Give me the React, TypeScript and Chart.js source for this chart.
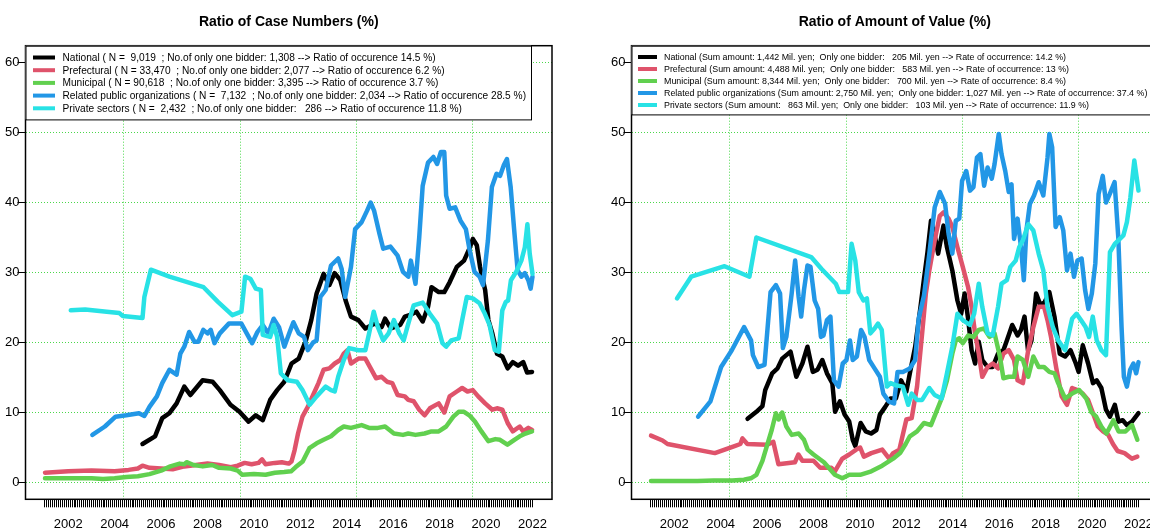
import React, { useEffect, useRef } from "react";
import { Chart, registerables } from "chart.js";

Chart.register(...registerables);

const FONT = "'Liberation Sans', Arial, Helvetica, sans-serif";
const GRID_COLOR = "#4bd84b";

// ---------- axes ----------
const yTickValues = [0, 10, 20, 30, 40, 50, 60];
const yearLabels = [2002, 2004, 2006, 2008, 2010, 2012, 2014, 2016, 2018, 2020, 2022];
const gridYears = [2004.4, 2009.4, 2014.4, 2019.4];
const firstMonthYear = 2001;
const monthCount = 253; // Jan 2001 .. Jan 2022
const xMin = 2000.16;
const xMax = 2022.84;
const yMin = -2.4;
const yMax = 62.4;

// ---------- series names / colours ----------
const seriesColors = ["#000000", "#DF536B", "#61D04F", "#2297E6", "#28E2E5"];

const caseLegend = [
  "National ( N =  9,019  ; No.of only one bidder: 1,308 --> Ratio of occurence 14.5 %)",
  "Prefectural ( N = 33,470  ; No.of only one bidder: 2,077 --> Ratio of occurence 6.2 %)",
  "Municipal ( N = 90,618  ; No.of only one bidder: 3,395 --> Ratio of occurence 3.7 %)",
  "Related public organizations ( N =  7,132  ; No.of only one bidder: 2,034 --> Ratio of occurence 28.5 %)",
  "Private sectors ( N =  2,432  ; No.of only one bidder:   286 --> Ratio of occurence 11.8 %)",
];

const valueLegend = [
  "National (Sum amount: 1,442 Mil. yen;  Only one bidder:   205 Mil. yen --> Rate of occurrence: 14.2 %)",
  "Prefectural (Sum amount: 4,488 Mil. yen;  Only one bidder:   583 Mil. yen --> Rate of occurrence: 13 %)",
  "Municipal (Sum amount: 8,344 Mil. yen;  Only one bidder:   700 Mil. yen --> Rate of occurrence: 8.4 %)",
  "Related public organizations (Sum amount: 2,750 Mil. yen;  Only one bidder: 1,027 Mil. yen --> Rate of occurrence: 37.4 %)",
  "Private sectors (Sum amount:   863 Mil. yen;  Only one bidder:   103 Mil. yen --> Rate of occurrence: 11.9 %)",
];

// ---------- Ratio of Case Numbers (%) : [year, value] ----------
const caseNational: [number, number][] = [
  [2005.2, 5.5], [2005.74, 6.6], [2006.05, 9.2], [2006.36, 9.9], [2006.67, 11.3], [2007.0, 13.7], [2007.26, 12.5],
  [2007.79, 14.6], [2008.22, 14.4], [2008.53, 13.2], [2008.99, 11.1], [2009.38, 10.1], [2009.77, 8.7], [2010.08, 9.6],
  [2010.38, 8.9], [2010.7, 11.8], [2011.0, 13.2], [2011.31, 14.4], [2011.62, 17.0], [2011.93, 17.7], [2012.24, 20.3],
  [2012.47, 23.2], [2012.7, 27.0], [2013.0, 29.8], [2013.25, 28.2], [2013.48, 29.9], [2013.72, 28.9], [2013.95, 26.0],
  [2014.18, 23.7], [2014.5, 23.2], [2014.8, 22.0], [2015.2, 22.7], [2015.5, 22.2], [2015.65, 23.4], [2015.9, 22.0],
  [2016.3, 22.5], [2016.5, 23.7], [2016.7, 23.9], [2017.0, 24.4], [2017.27, 23.0], [2017.5, 25.1], [2017.65, 27.9],
  [2017.96, 27.2], [2018.2, 27.2], [2018.43, 28.6], [2018.74, 30.8], [2019.05, 31.7], [2019.28, 33.4], [2019.43, 34.8],
  [2019.6, 33.9], [2019.74, 30.8], [2019.96, 27.5], [2020.1, 23.2], [2020.27, 21.3], [2020.47, 18.4], [2020.7, 18.0],
  [2020.93, 16.3], [2021.15, 17.2], [2021.38, 16.7], [2021.6, 17.2], [2021.77, 15.7], [2021.98, 15.8],
];

const casePrefectural: [number, number][] = [
  [2001.0, 1.4], [2002.0, 1.6], [2003.0, 1.7], [2004.0, 1.6], [2004.6, 1.8], [2005.0, 2.0], [2005.2, 2.4], [2005.5, 2.1],
  [2006.0, 2.0], [2006.5, 1.9], [2007.0, 2.3], [2007.5, 2.5], [2008.0, 2.7], [2008.5, 2.5], [2009.0, 2.2], [2009.3, 2.4],
  [2009.6, 2.8], [2009.9, 2.6], [2010.2, 2.8], [2010.35, 3.3], [2010.5, 2.6], [2010.9, 2.8], [2011.2, 2.9], [2011.5, 2.7],
  [2011.62, 3.0], [2011.75, 4.6], [2011.9, 7.0], [2012.09, 9.4], [2012.32, 10.8], [2012.55, 12.5], [2012.78, 14.2],
  [2013.0, 16.1], [2013.25, 16.3], [2013.48, 17.0], [2013.72, 17.5], [2013.87, 18.4], [2014.03, 18.9], [2014.18, 17.0],
  [2014.5, 17.7], [2014.8, 17.7], [2015.03, 16.3], [2015.26, 14.9], [2015.5, 15.1], [2015.73, 14.4], [2015.96, 14.2],
  [2016.19, 12.5], [2016.5, 12.3], [2016.65, 11.8], [2016.88, 11.6], [2017.12, 10.4], [2017.35, 9.6], [2017.58, 10.6],
  [2017.96, 11.3], [2018.2, 10.0], [2018.43, 12.3], [2018.74, 13.0], [2018.97, 13.5], [2019.2, 13.0], [2019.43, 13.2],
  [2019.66, 12.3], [2019.96, 11.3], [2020.27, 10.4], [2020.47, 10.6], [2020.7, 10.4], [2020.93, 8.5], [2021.15, 7.3],
  [2021.45, 8.0], [2021.6, 7.3], [2021.82, 7.8], [2021.98, 7.5],
];

const caseMunicipal: [number, number][] = [
  [2001.0, 0.6], [2002.0, 0.6], [2003.0, 0.6], [2003.5, 0.5], [2004.0, 0.6], [2004.5, 0.8], [2005.0, 0.9], [2005.5, 1.2],
  [2006.0, 1.7], [2006.4, 2.3], [2006.8, 2.7], [2007.0, 2.6], [2007.1, 2.9], [2007.4, 2.5], [2007.8, 2.3], [2008.2, 2.5],
  [2008.5, 2.1], [2009.0, 2.0], [2009.3, 1.7], [2009.5, 1.1], [2010.0, 1.2], [2010.5, 1.1], [2010.9, 1.4], [2011.3, 1.5],
  [2011.6, 1.6], [2011.8, 2.2], [2012.1, 3.0], [2012.39, 4.9], [2012.7, 5.6], [2013.0, 6.1], [2013.32, 6.6], [2013.63, 7.5],
  [2013.87, 8.0], [2014.18, 7.8], [2014.64, 8.2], [2014.96, 7.8], [2015.34, 7.8], [2015.65, 8.0], [2016.03, 7.0],
  [2016.42, 6.8], [2016.65, 7.0], [2016.96, 6.8], [2017.35, 7.0], [2017.65, 7.3], [2017.96, 7.3], [2018.28, 8.0],
  [2018.59, 9.4], [2018.82, 10.1], [2019.05, 10.1], [2019.28, 9.6], [2019.52, 8.7], [2019.8, 7.3], [2020.1, 5.9],
  [2020.4, 6.2], [2020.6, 6.1], [2020.92, 5.4], [2021.22, 6.1], [2021.45, 6.6], [2021.7, 7.0], [2021.98, 7.3],
];

const caseRelated: [number, number][] = [
  [2003.04, 6.8], [2003.58, 8.0], [2004.04, 9.4], [2004.5, 9.6], [2005.05, 9.9], [2005.28, 9.5], [2005.5, 10.8],
  [2005.82, 12.3], [2006.05, 14.2], [2006.36, 16.1], [2006.67, 15.4], [2006.83, 18.4], [2007.0, 19.4], [2007.21, 21.5],
  [2007.44, 20.1], [2007.6, 20.1], [2007.82, 21.8], [2008.0, 21.3], [2008.14, 21.8], [2008.3, 19.9], [2008.53, 21.3],
  [2008.92, 22.7], [2009.22, 22.7], [2009.46, 22.7], [2009.69, 21.3], [2009.92, 19.9], [2010.15, 21.5], [2010.38, 22.5],
  [2010.62, 21.3], [2010.85, 23.4], [2011.08, 22.2], [2011.31, 19.4], [2011.54, 21.5], [2011.7, 22.9], [2011.93, 21.3],
  [2012.16, 20.8], [2012.32, 18.9], [2012.55, 20.0], [2012.7, 20.3], [2012.86, 26.5], [2013.09, 27.5], [2013.32, 31.0],
  [2013.63, 32.0], [2013.78, 30.5], [2013.93, 26.5], [2014.18, 30.8], [2014.36, 36.2], [2014.64, 37.2], [2014.87, 38.8],
  [2015.03, 40.0], [2015.18, 38.8], [2015.41, 35.5], [2015.57, 33.4], [2015.88, 33.7], [2016.19, 32.4], [2016.42, 30.1],
  [2016.65, 29.4], [2016.76, 31.7], [2016.96, 28.4], [2017.12, 35.0], [2017.27, 42.4], [2017.5, 45.7], [2017.73, 46.5],
  [2017.89, 45.5], [2018.05, 47.2], [2018.2, 47.2], [2018.28, 41.0], [2018.43, 39.1], [2018.67, 39.3], [2018.9, 37.4],
  [2019.13, 36.2], [2019.28, 33.4], [2019.5, 30.1], [2019.72, 29.4], [2019.87, 28.2], [2020.08, 34.6], [2020.25, 42.2],
  [2020.45, 44.1], [2020.6, 43.8], [2020.76, 45.3], [2020.9, 46.2], [2021.06, 42.2], [2021.2, 36.5], [2021.36, 30.3],
  [2021.52, 29.4], [2021.67, 29.9], [2021.82, 28.9], [2021.92, 27.7], [2022.0, 29.4],
];

const casePrivate: [number, number][] = [
  [2002.11, 24.6], [2002.73, 24.7], [2003.66, 24.4], [2004.2, 24.2], [2004.35, 23.8], [2005.2, 23.5], [2005.28, 26.5],
  [2005.56, 30.4], [2006.36, 29.4], [2007.83, 27.9], [2008.45, 25.8], [2009.07, 23.9], [2009.46, 24.4], [2009.62, 29.4],
  [2009.85, 29.1], [2010.08, 27.7], [2010.3, 27.5], [2010.38, 21.1], [2010.7, 20.8], [2010.85, 22.5], [2011.0, 20.8],
  [2011.16, 15.6], [2011.46, 14.6], [2011.85, 14.4], [2012.09, 13.2], [2012.4, 11.1], [2012.7, 12.3], [2013.09, 13.7],
  [2013.32, 13.2], [2013.48, 13.0], [2013.63, 15.1], [2013.87, 17.5], [2014.1, 19.2], [2014.5, 18.9], [2014.8, 18.9],
  [2014.96, 21.3], [2015.16, 24.4], [2015.34, 22.2], [2015.57, 20.3], [2015.8, 21.3], [2016.03, 23.2], [2016.26, 21.3],
  [2016.45, 20.3], [2016.65, 22.7], [2016.88, 25.3], [2017.27, 25.7], [2017.58, 24.1], [2017.89, 22.7], [2018.12, 19.9],
  [2018.28, 19.4], [2018.5, 20.3], [2018.82, 20.6], [2018.97, 23.2], [2019.17, 26.5], [2019.43, 26.3], [2019.72, 25.6],
  [2019.95, 24.1], [2020.15, 22.5], [2020.38, 18.9], [2020.55, 18.7], [2020.7, 24.6], [2020.85, 25.8], [2020.95, 26.0],
  [2021.07, 28.9], [2021.3, 30.1], [2021.52, 31.7], [2021.67, 33.6], [2021.78, 36.9], [2021.88, 32.7], [2022.0, 29.8],
];

// ---------- Ratio of Amount of Value (%) : [year, value] ----------
const valueNational: [number, number][] = [
  [2005.16, 9.1], [2005.54, 10.1], [2005.8, 10.9], [2005.92, 13.2], [2006.22, 15.6], [2006.45, 16.3], [2006.65, 17.7],
  [2006.83, 18.2], [2007.01, 18.7], [2007.26, 15.1], [2007.52, 17.0], [2007.74, 19.4], [2007.97, 15.8], [2008.17, 16.1],
  [2008.38, 17.5], [2008.58, 15.6], [2008.81, 14.2], [2008.93, 10.1], [2009.14, 11.6], [2009.34, 9.7], [2009.54, 8.7],
  [2009.69, 6.1], [2009.8, 5.2], [2010.03, 8.5], [2010.25, 7.3], [2010.48, 7.0], [2010.71, 7.5], [2010.86, 9.7],
  [2011.09, 10.8], [2011.32, 12.0], [2011.55, 12.0], [2011.77, 14.6], [2012.0, 13.0], [2012.15, 15.6], [2012.38, 19.4],
  [2012.61, 25.1], [2012.76, 29.1], [2012.91, 32.9], [2013.06, 37.4], [2013.22, 35.3], [2013.37, 32.7], [2013.6, 36.7],
  [2013.75, 33.6], [2013.98, 30.3], [2014.2, 26.0], [2014.36, 24.1], [2014.51, 27.0], [2014.66, 23.4], [2014.81, 18.9],
  [2014.96, 17.0], [2015.12, 20.1], [2015.27, 17.5], [2015.5, 16.5], [2015.72, 16.5], [2015.95, 18.4], [2016.18, 18.9],
  [2016.33, 20.3], [2016.56, 22.5], [2016.79, 21.0], [2016.94, 21.8], [2017.09, 23.7], [2017.24, 18.9], [2017.39, 20.3],
  [2017.59, 27.0], [2017.78, 25.3], [2017.96, 25.8], [2018.16, 27.2], [2018.38, 23.7], [2018.61, 18.4], [2018.84, 18.0],
  [2019.07, 18.9], [2019.3, 17.0], [2019.42, 15.8], [2019.6, 19.6], [2019.83, 17.0], [2020.04, 14.2], [2020.2, 14.6],
  [2020.4, 13.5], [2020.6, 10.4], [2020.77, 9.4], [2020.98, 11.1], [2021.14, 8.7], [2021.32, 8.9], [2021.5, 8.2],
  [2021.72, 8.7], [2022.0, 9.9],
];

const valuePrefectural: [number, number][] = [
  [2001.0, 6.7], [2001.5, 6.0], [2001.71, 5.5], [2003.75, 4.2], [2004.6, 5.2], [2004.85, 5.5], [2004.94, 6.3],
  [2005.15, 5.5], [2006.0, 5.4], [2006.27, 5.8], [2006.49, 2.6], [2007.2, 2.9], [2007.35, 4.0], [2007.52, 3.1],
  [2008.0, 3.1], [2008.29, 2.1], [2008.77, 2.1], [2008.92, 1.6], [2009.24, 3.4], [2009.54, 4.0], [2009.84, 4.7],
  [2010.01, 5.0], [2010.17, 3.7], [2010.49, 4.2], [2010.96, 4.7], [2011.26, 3.4], [2011.43, 4.2], [2011.7, 4.7],
  [2012.0, 9.0], [2012.23, 9.2], [2012.46, 13.7], [2012.68, 21.3], [2012.84, 27.0], [2012.99, 30.3], [2013.22, 34.6],
  [2013.44, 38.1], [2013.6, 38.6], [2013.82, 37.7], [2013.98, 36.5], [2014.2, 33.6], [2014.43, 30.8], [2014.66, 27.9],
  [2014.81, 25.1], [2014.96, 21.3], [2015.12, 18.4], [2015.27, 15.1], [2015.5, 16.5], [2015.72, 17.0], [2015.95, 16.3],
  [2016.18, 18.4], [2016.41, 18.9], [2016.64, 17.5], [2016.79, 14.6], [2017.02, 14.2], [2017.25, 18.9], [2017.47, 22.2],
  [2017.7, 25.1], [2017.93, 25.1], [2018.08, 23.2], [2018.23, 20.8], [2018.46, 16.3], [2018.69, 12.3], [2018.92, 11.1],
  [2019.14, 13.5], [2019.37, 13.2], [2019.6, 12.7], [2019.83, 11.8], [2020.04, 9.9], [2020.25, 8.0], [2020.47, 7.3],
  [2020.7, 6.8], [2020.9, 5.5], [2021.1, 4.5], [2021.4, 4.2], [2021.72, 3.4], [2021.95, 3.7],
];

const valueMunicipal: [number, number][] = [
  [2001.0, 0.2], [2002.0, 0.2], [2003.0, 0.2], [2003.7, 0.3], [2004.5, 0.3], [2005.0, 0.4], [2005.3, 0.6], [2005.54, 1.1],
  [2005.8, 3.1], [2006.0, 5.3], [2006.2, 7.5], [2006.38, 9.9], [2006.5, 9.0], [2006.65, 10.0], [2006.83, 8.0],
  [2007.06, 6.8], [2007.36, 7.0], [2007.59, 6.1], [2007.75, 4.7], [2008.0, 4.0], [2008.45, 2.9], [2008.92, 1.1],
  [2009.24, 0.6], [2009.54, 1.1], [2010.01, 1.1], [2010.49, 1.6], [2010.96, 2.4], [2011.43, 3.4], [2011.73, 4.2],
  [2011.97, 5.5], [2012.15, 6.6], [2012.46, 7.3], [2012.76, 8.5], [2013.06, 8.2], [2013.29, 10.1], [2013.52, 12.0],
  [2013.75, 14.6], [2013.98, 18.4], [2014.13, 20.3], [2014.28, 20.6], [2014.43, 19.9], [2014.66, 21.0], [2014.89, 20.8],
  [2015.12, 21.8], [2015.35, 22.0], [2015.58, 20.8], [2015.8, 21.3], [2016.03, 18.0], [2016.18, 14.9], [2016.41, 15.1],
  [2016.64, 15.1], [2016.79, 18.0], [2017.02, 17.5], [2017.25, 15.1], [2017.47, 18.0], [2017.7, 16.5], [2017.93, 16.5],
  [2018.16, 15.8], [2018.38, 15.6], [2018.54, 14.2], [2018.84, 12.0], [2019.14, 12.7], [2019.45, 13.2], [2019.75, 12.0],
  [2019.96, 10.1], [2020.18, 9.4], [2020.4, 8.0], [2020.62, 7.0], [2020.92, 8.9], [2021.14, 7.3], [2021.44, 7.3],
  [2021.72, 8.2], [2021.95, 6.1],
];

const valueRelated: [number, number][] = [
  [2003.03, 9.4], [2003.56, 11.6], [2004.02, 16.5], [2004.48, 18.9], [2005.01, 22.2], [2005.31, 20.3], [2005.39, 18.2],
  [2005.62, 16.5], [2005.89, 16.8], [2006.15, 27.2], [2006.38, 28.2], [2006.56, 27.0], [2006.68, 19.2], [2006.83, 20.8],
  [2007.06, 27.0], [2007.21, 31.7], [2007.36, 26.5], [2007.47, 23.7], [2007.59, 27.5], [2007.74, 31.0], [2007.87, 30.8],
  [2008.05, 26.0], [2008.2, 24.8], [2008.32, 20.8], [2008.43, 21.0], [2008.58, 23.2], [2008.73, 23.7], [2008.88, 14.6],
  [2009.08, 13.7], [2009.26, 17.0], [2009.42, 17.5], [2009.57, 20.3], [2009.69, 17.5], [2009.87, 18.0], [2010.05, 21.8],
  [2010.2, 20.8], [2010.4, 17.5], [2010.63, 16.3], [2010.86, 15.1], [2011.01, 12.7], [2011.24, 11.6], [2011.47, 11.3],
  [2011.62, 15.8], [2011.85, 15.8], [2012.15, 16.3], [2012.38, 17.5], [2012.53, 23.4], [2012.76, 26.7], [2012.99, 32.7],
  [2013.22, 39.3], [2013.44, 41.5], [2013.67, 39.8], [2013.82, 35.5], [2013.98, 32.7], [2014.13, 37.4], [2014.28, 37.7],
  [2014.4, 43.1], [2014.58, 44.5], [2014.74, 41.7], [2014.89, 42.2], [2015.04, 46.4], [2015.19, 46.9], [2015.35, 42.4],
  [2015.5, 45.0], [2015.68, 43.4], [2015.8, 45.5], [2015.98, 49.8], [2016.1, 46.9], [2016.26, 44.5], [2016.41, 41.5],
  [2016.53, 42.6], [2016.64, 34.8], [2016.79, 37.7], [2016.94, 33.6], [2017.06, 28.9], [2017.17, 36.0], [2017.32, 39.8],
  [2017.5, 41.0], [2017.7, 42.9], [2017.9, 41.0], [2018.08, 46.4], [2018.16, 49.8], [2018.28, 47.9], [2018.43, 36.5],
  [2018.61, 37.9], [2018.76, 36.0], [2018.92, 30.3], [2019.07, 32.7], [2019.22, 29.4], [2019.37, 31.7], [2019.55, 32.0],
  [2019.7, 27.5], [2019.84, 24.8], [2019.99, 27.0], [2020.14, 31.3], [2020.28, 41.2], [2020.46, 43.8], [2020.6, 40.0],
  [2020.76, 41.2], [2020.97, 42.9], [2021.13, 35.0], [2021.27, 22.2], [2021.37, 15.1], [2021.5, 13.7], [2021.64, 16.1],
  [2021.78, 17.0], [2021.9, 15.6], [2022.0, 17.2],
];

const valuePrivate: [number, number][] = [
  [2002.12, 26.3], [2002.73, 29.4], [2004.17, 30.9], [2005.24, 29.4], [2005.54, 35.0], [2007.9, 32.2], [2008.35, 30.5],
  [2008.96, 28.4], [2009.11, 27.2], [2009.49, 27.2], [2009.64, 34.1], [2009.8, 31.7], [2009.95, 27.2], [2010.15, 26.0],
  [2010.3, 26.3], [2010.45, 21.3], [2010.63, 22.0], [2010.78, 22.7], [2010.94, 21.8], [2011.16, 13.7], [2011.32, 14.2],
  [2011.54, 13.9], [2011.85, 13.7], [2012.08, 11.1], [2012.23, 12.7], [2012.46, 11.8], [2012.68, 11.8], [2012.99, 13.5],
  [2013.22, 12.5], [2013.52, 12.0], [2013.75, 15.6], [2013.98, 19.4], [2014.2, 24.1], [2014.43, 23.2], [2014.74, 22.5],
  [2014.92, 24.1], [2015.12, 28.4], [2015.27, 25.1], [2015.5, 21.3], [2015.72, 21.0], [2015.95, 25.1], [2016.1, 28.4],
  [2016.33, 28.9], [2016.48, 30.8], [2016.71, 31.7], [2016.86, 33.6], [2017.02, 34.6], [2017.25, 36.9], [2017.47, 36.0],
  [2017.7, 32.7], [2017.9, 30.3], [2018.08, 25.1], [2018.31, 22.2], [2018.54, 20.3], [2018.84, 18.9], [2019.14, 23.4],
  [2019.33, 24.1], [2019.52, 23.2], [2019.72, 22.2], [2019.87, 20.8], [2020.03, 23.7], [2020.2, 20.3], [2020.4, 18.9],
  [2020.6, 18.2], [2020.77, 32.9], [2020.98, 34.1], [2021.35, 35.3], [2021.5, 37.2], [2021.65, 40.7], [2021.82, 46.0],
  [2022.0, 41.7],
];

const caseSeries = [caseNational, casePrefectural, caseMunicipal, caseRelated, casePrivate];
const valueSeries = [valueNational, valuePrefectural, valueMunicipal, valueRelated, valuePrivate];

type LegendCfg = {
  width: number;
  height: number;
  firstRow: number;
  rowGap: number;
  seg0: number;
  seg1: number;
  textX: number;
  textWidth: number;
};

const caseLegendCfg: LegendCfg = {
  width: 505.5, height: 73.7, firstRow: 11.8, rowGap: 12.7, seg0: 7.5, seg1: 29.5, textX: 37, textWidth: 464,
};
const valueLegendCfg: LegendCfg = {
  width: 540, height: 68.7, firstRow: 11.3, rowGap: 12, seg0: 6.5, seg1: 25.5, textX: 32.5, textWidth: 484,
};

const decorPlugin = {
  id: "panelDecor",
  afterDraw(chart: any, _args: any, opts: any) {
    const { ctx, chartArea: a } = chart;
    ctx.save();
    // plot box
    ctx.strokeStyle = "#000";
    ctx.lineWidth = 1.5;
    ctx.strokeRect(a.left, a.top, a.right - a.left, a.bottom - a.top);
    // title
    ctx.fillStyle = "#000";
    ctx.font = `bold 14px ${FONT}`;
    ctx.textAlign = "center";
    ctx.textBaseline = "middle";
    ctx.fillText(opts.title, (a.left + a.right) / 2, 22.5);
    // legend
    const cfg: LegendCfg = opts.legend;
    const ds = chart.data.datasets;
    let longest = "";
    ds.forEach((d: any) => {
      if (d.label.length > longest.length) longest = d.label;
    });
    ctx.font = `10px ${FONT}`;
    const w10 = ctx.measureText(longest).width;
    const fs = (10 * cfg.textWidth) / w10;
    const lx = a.left;
    const ly = a.top;
    ctx.fillStyle = "#fff";
    ctx.fillRect(lx, ly, cfg.width, cfg.height);
    ctx.strokeStyle = "#000";
    ctx.lineWidth = 1;
    ctx.strokeRect(lx + 0.5, ly + 0.5, cfg.width, cfg.height);
    ctx.font = `${fs.toFixed(2)}px ${FONT}`;
    ctx.textAlign = "left";
    ctx.textBaseline = "middle";
    ds.forEach((d: any, i: number) => {
      const y = ly + cfg.firstRow + i * cfg.rowGap;
      ctx.strokeStyle = d.borderColor;
      ctx.lineWidth = 4;
      ctx.lineCap = "butt";
      ctx.beginPath();
      ctx.moveTo(lx + cfg.seg0, y);
      ctx.lineTo(lx + cfg.seg1, y);
      ctx.stroke();
      ctx.fillStyle = "#000";
      ctx.fillText(d.label, lx + cfg.textX, y + 0.5);
    });
    ctx.restore();
  },
};

const monthTicks = Array.from({ length: monthCount }, (_, i) => firstMonthYear + i / 12);

function yearLabel(v: number): string {
  const r = Math.round(v);
  return Math.abs(v - r) < 1e-6 && yearLabels.includes(r) ? String(r) : "";
}

function makeConfig(title: string, labels: string[], series: [number, number][][], legend: LegendCfg): any {
  const order = [5, 4, 3, 2, 1];
  return {
    type: "line",
    data: {
      datasets: series.map((s, i) => ({
        label: labels[i],
        data: s.map(([x, y]) => ({ x, y })),
        borderColor: seriesColors[i],
        backgroundColor: seriesColors[i],
        borderWidth: 4.5,
        pointRadius: 0,
        pointHoverRadius: 0,
        tension: 0,
        fill: false,
        borderCapStyle: "round",
        borderJoinStyle: "round",
        order: order[i],
      })),
    },
    options: {
      responsive: false,
      animation: false,
      events: [],
      layout: { padding: { left: 0, right: 26, top: 45.7, bottom: 0 } },
      plugins: {
        legend: { display: false },
        title: { display: false },
        tooltip: { enabled: false },
        panelDecor: { title, legend },
      },
      scales: {
        x: {
          type: "linear",
          position: "bottom",
          min: xMin,
          max: xMax,
          afterBuildTicks: (s: any) => {
            s.ticks = monthTicks.map((v) => ({ value: v }));
          },
          afterFit: (s: any) => {
            s.height = 32.7;
          },
          ticks: {
            autoSkip: false,
            maxRotation: 0,
            minRotation: 0,
            padding: 9,
            color: "#000",
            font: { family: FONT, size: 13 },
            callback: (v: number) => yearLabel(v),
          },
          grid: {
            drawOnChartArea: false,
            drawTicks: true,
            tickLength: 8,
            tickColor: "#000",
            tickWidth: 1,
          },
          border: { display: false },
        },
        xg: {
          type: "linear",
          position: "bottom",
          min: xMin,
          max: xMax,
          afterBuildTicks: (s: any) => {
            s.ticks = gridYears.map((v) => ({ value: v }));
          },
          afterFit: (s: any) => {
            s.height = 0;
          },
          ticks: { display: false },
          grid: { color: GRID_COLOR, lineWidth: 1, drawTicks: false, drawOnChartArea: true },
          border: { display: false, dash: [1, 2] },
        },
        y: {
          type: "linear",
          position: "left",
          min: yMin,
          max: yMax,
          afterBuildTicks: (s: any) => {
            s.ticks = yTickValues.map((v) => ({ value: v }));
          },
          afterFit: (s: any) => {
            s.width = 25.5;
          },
          ticks: {
            padding: -2,
            color: "#000",
            font: { family: FONT, size: 13 },
            callback: (v: number) => String(v),
          },
          grid: {
            color: GRID_COLOR,
            lineWidth: 1,
            tickColor: "#000",
            tickLength: 8,
            tickWidth: 1,
            tickBorderDash: [],
          },
          border: { display: false, dash: [1, 2] },
        },
      },
    },
    plugins: [decorPlugin],
  };
}

function Panel({ left, config }: { left: number; config: () => any }) {
  const ref = useRef<HTMLCanvasElement | null>(null);
  useEffect(() => {
    if (!ref.current) return;
    const chart = new Chart(ref.current, config());
    return () => chart.destroy();
  }, []);
  return (
    <div style={{ position: "absolute", left, top: 0, width: 578, height: 532 }}>
      <canvas ref={ref} width={578} height={532} style={{ width: 578, height: 532, display: "block" }} />
    </div>
  );
}

export default function App() {
  return (
    <div
      style={{
        position: "absolute",
        left: 0,
        top: 0,
        width: 1150,
        height: 532,
        overflow: "hidden",
        background: "#fff",
      }}
    >
      <Panel left={0} config={() => makeConfig("Ratio of Case Numbers (%)", caseLegend, caseSeries, caseLegendCfg)} />
      <Panel left={606} config={() => makeConfig("Ratio of Amount of Value (%)", valueLegend, valueSeries, valueLegendCfg)} />
    </div>
  );
}
